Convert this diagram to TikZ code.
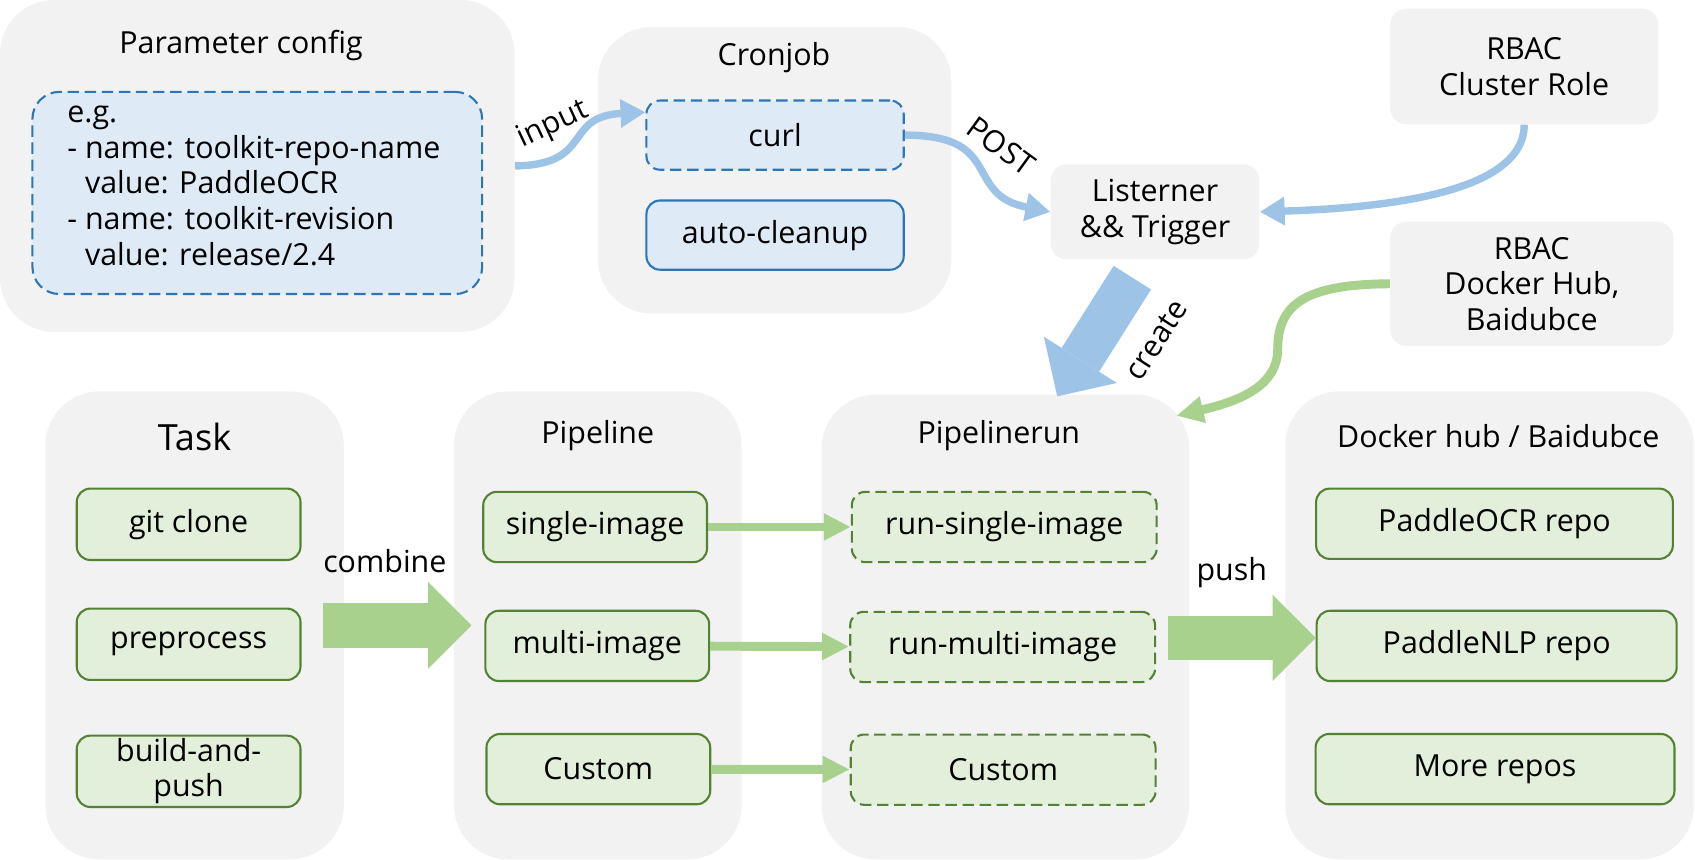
\documentclass[tikz,border=0pt]{standalone}
\usepackage{fontspec}
\setmainfont{Open Sans}
\usetikzlibrary{arrows.meta}

\definecolor{grayf}{HTML}{F2F2F2}
\definecolor{bluef}{HTML}{DEEBF7}
\definecolor{blueb}{HTML}{2E75B6}
\definecolor{bluea}{HTML}{9DC3E6}
\definecolor{greenf}{HTML}{E2EFDA}
\definecolor{greenb}{HTML}{548235}
\definecolor{greena}{HTML}{A9D18E}

\begin{document}
\begin{tikzpicture}[font=\fontsize{16}{18.7}\selectfont]
		\tikzset{grp/.style={fill=grayf, rounded corners=1cm, inner sep=0pt},
			sgrp/.style={fill=grayf, rounded corners=0.3cm, align=center, inner sep=0pt},
			gbox/.style={draw=greenb, fill=greenf, line width=1.1pt, rounded corners=0.25cm, minimum height=1.3cm, align=center, inner sep=0pt},
			gdash/.style={gbox, dash pattern=on 6pt off 3pt},
			bbox/.style={draw=blueb, fill=bluef, line width=1.1pt, rounded corners=0.25cm, minimum width=4.76cm, minimum height=1.28cm, inner sep=0pt},
			thinb/.style={draw=bluea, line width=3.9pt, -{Triangle[length=0.46cm, width=0.5cm]}},
			thing/.style={draw=greena, line width=4.7pt, -{Triangle[length=0.5cm, width=0.47cm]}},
			fat/.style={line width=0.82cm, -{Triangle[length=0.8cm, width=1.6cm, line width=0pt]}}};

		\useasboundingbox (0,0) rectangle (31.36,-15.91);

		\node[grp, minimum width=9.52cm, minimum height=6.14cm] (param) at (4.76, -3.07) {};
		\node (paramt) at (4.46, -0.84) {Parameter config};
		\node[bbox, rounded corners=0.5cm, dash pattern=on 6pt off 3pt, minimum width=8.32cm, minimum height=3.74cm] (pdash) at (4.76, -3.57) {};
		\node[anchor=west, align=left, inner sep=0pt] (ptext) at (1.24, -3.44) {e.g.\\- name: toolkit-repo-name\\\hphantom{- }value: PaddleOCR\\- name: toolkit-revision\\\hphantom{- }value: release/2.4};

		\node[grp, minimum width=6.54cm, minimum height=5.3cm] (cron) at (14.33, -3.15) {};
		\node (cront) at (14.32, -1.06) {Cronjob};
		\node[bbox, dash pattern=on 6pt off 3pt] (curl) at (14.34, -2.5) {curl};
		\node[bbox] (clean) at (14.34, -4.35) {auto-cleanup};

		\node[sgrp, minimum width=3.86cm, minimum height=1.76cm] (listener) at (21.37, -3.92) {Listerner\\\&\& Trigger};
		\node[sgrp, minimum width=4.96cm, minimum height=2.14cm] (rbaccr) at (28.2, -1.23) {RBAC\\Cluster Role};
		\node[sgrp, minimum width=5.24cm, minimum height=2.3cm] (rbacdh) at (28.34, -5.25) {RBAC\\Docker Hub,\\Baidubce};

		\node[grp, minimum width=5.52cm, minimum height=8.66cm] (task) at (3.6, -11.57) {};
		\node[font=\fontsize{19}{23}\selectfont] (taskt) at (3.6, -8.08) {Task};
		\node[gbox, minimum width=4.14cm, minimum height=1.32cm] (git) at (3.49, -9.7) {git clone};
		\node[gbox, minimum width=4.14cm, minimum height=1.32cm] (prep) at (3.49, -11.92) {preprocess};
		\node[gbox, minimum width=4.14cm, minimum height=1.32cm] (build) at (3.49, -14.27) {build-and-\\push};

		\node[grp, minimum width=5.32cm, minimum height=8.66cm] (pipe) at (11.06, -11.57) {};
		\node (pipet) at (11.06, -8.06) {Pipeline};
		\node[gbox, minimum width=4.14cm] (psingle) at (11.01, -9.75) {single-image};
		\node[gbox, minimum width=4.14cm] (pmulti) at (11.05, -11.95) {multi-image};
		\node[gbox, minimum width=4.14cm] (pcustom) at (11.07, -14.23) {Custom};

		\node[grp, minimum width=6.8cm, minimum height=8.6cm] (prun) at (18.6, -11.6) {};
		\node (prunt) at (18.48, -8.06) {Pipelinerun};
		\node[gdash, minimum width=5.64cm] (rsingle) at (18.58, -9.75) {run-single-image};
		\node[gdash, minimum width=5.64cm] (rmulti) at (18.55, -11.97) {run-multi-image};
		\node[gdash, minimum width=5.64cm] (rcustom) at (18.56, -14.24) {Custom};

		\node[grp, minimum width=7.56cm, minimum height=8.66cm] (docker) at (27.56, -11.57) {};
		\node (dockert) at (27.72, -8.06) {Docker hub / Baidubce};
		\node[gbox, minimum width=6.6cm] (ocr) at (27.65, -9.69) {PaddleOCR repo};
		\node[gbox, minimum width=6.66cm] (nlp) at (27.69, -11.95) {PaddleNLP repo};
		\node[gbox, minimum width=6.64cm] (more) at (27.66, -14.23) {More repos};

		\draw[thinb] (param.east) .. controls (11.0, -3.05) and (10.4, -2.15) .. (curl.170);
		\draw[thinb] (curl.east) .. controls (18.6, -2.5) and (17.8, -3.6) .. (listener.west);
		\draw[thinb] (rbaccr.south) .. controls (28.2, -3.6) and (25.5, -3.85) .. (listener.east);
		\draw[thing] (rbacdh.west) .. controls (24.2, -5.26) and (23.64, -5.6) .. (23.64, -6.45) .. controls (23.64, -7.2) and (22.8, -7.45) .. ([xshift=-0.24cm, yshift=-0.4cm]prun.north east);

		\draw[fat, bluea] ([xshift=-0.42cm, yshift=-0.33cm]listener.south) -- ([xshift=0.96cm, yshift=-0.04cm]prun.north);
		\draw[fat, greena] ([xshift=-0.39cm]task.east) -- ([xshift=0.33cm]pipe.west);
		\draw[fat, greena] ([xshift=-0.4cm, yshift=-0.2cm]prun.east) -- ([xshift=0.57cm, yshift=-0.23cm]docker.west);

		\draw[thing] (psingle) -- (rsingle);
		\draw[thing] (pmulti) -- (rmulti);
		\draw[thing] (pcustom) -- (rcustom);

		\node[rotate=25] (linput) at (10.23, -2.31) {input};
		\node[rotate=-36] (lpost) at (18.52, -2.7) {POST};
		\node[rotate=57] (lcreate) at (21.4, -6.29) {create};
		\node (lcombine) at (7.12, -10.39) {combine};
		\node (lpush) at (22.79, -10.6) {push};

	\end{tikzpicture}
\end{document}
